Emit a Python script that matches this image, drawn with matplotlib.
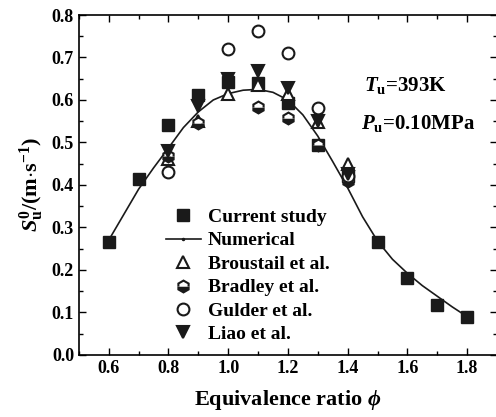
import matplotlib
matplotlib.use("Agg")
import matplotlib.pyplot as plt
from matplotlib.lines import Line2D
from matplotlib.ticker import MultipleLocator

plt.rcParams["font.family"] = "Liberation Serif"
plt.rcParams["font.weight"] = "bold"
plt.rcParams["axes.labelweight"] = "bold"
plt.rcParams["mathtext.fontset"] = "custom"
plt.rcParams["mathtext.rm"] = "Liberation Serif:bold"
plt.rcParams["mathtext.it"] = "Liberation Serif:italic:bold"
plt.rcParams["mathtext.bf"] = "Liberation Serif:bold"

# present measurements
phi_cur = [0.6, 0.7, 0.8, 0.9, 1.0, 1.1, 1.2, 1.3, 1.4, 1.5, 1.6, 1.7, 1.8]
su_cur = [0.266, 0.415, 0.542, 0.612, 0.642, 0.640, 0.594, 0.494, 0.420, 0.266, 0.181, 0.118, 0.090]

# numerical solution
phi_num = [0.6, 0.65, 0.7, 0.75, 0.8, 0.85, 0.9, 0.95, 1.0, 1.05, 1.1, 1.15, 1.2,
           1.25, 1.3, 1.35, 1.4, 1.45, 1.5, 1.55, 1.6, 1.65, 1.7, 1.75, 1.8]
su_num = [0.270, 0.330, 0.390, 0.440, 0.487, 0.535, 0.572, 0.600, 0.615, 0.623, 0.625,
          0.618, 0.600, 0.565, 0.515, 0.455, 0.393, 0.325, 0.268, 0.225, 0.192, 0.163,
          0.138, 0.113, 0.090]

# literature data
phi_bro = [0.8, 0.9, 1.0, 1.1, 1.2, 1.3, 1.4]
su_bro = [0.460, 0.550, 0.615, 0.635, 0.615, 0.548, 0.450]

phi_bra = [0.8, 0.9, 1.1, 1.2, 1.3, 1.4]
su_bra = [0.468, 0.545, 0.583, 0.558, 0.495, 0.410]

phi_gul = [0.8, 1.0, 1.1, 1.2, 1.3, 1.4]
su_gul = [0.430, 0.720, 0.762, 0.710, 0.580, 0.420]

phi_lia = [0.8, 0.9, 1.0, 1.1, 1.2, 1.3, 1.4]
su_lia = [0.480, 0.585, 0.650, 0.668, 0.628, 0.550, 0.425]

ink = "#1a1a1a"

fig = plt.figure(figsize=(4.96, 4.17), dpi=100)
ax = fig.add_axes([0.159, 0.149, 0.843, 0.815])

h_cur, = ax.plot(phi_cur, su_cur, "s", color=ink, ms=8.5, zorder=3)
ax.plot(phi_num, su_num, "-", color=ink, lw=1.2, zorder=2)
h_bro, = ax.plot(phi_bro, su_bro, "^", mfc="white", mec=ink, mew=1.5, ms=9, zorder=4)
h_bra, = ax.plot(phi_bra, su_bra, "h", fillstyle="bottom", mfc=ink, mfcalt="white",
                 mec=ink, mew=1.5, ms=8.5, zorder=4)
h_gul, = ax.plot(phi_gul, su_gul, "o", mfc="white", mec=ink, mew=1.5, ms=8.5, zorder=4)
h_lia, = ax.plot(phi_lia, su_lia, "v", color=ink, mew=1.5, ms=9, zorder=4)
# legend entry for the simulation: line with a small dot
h_num = Line2D([], [], color=ink, lw=1.2, marker=".", ms=3)

ax.set_xlim(0.5, 1.9)
ax.set_ylim(0.0, 0.8)
ax.xaxis.set_major_locator(MultipleLocator(0.2))
ax.xaxis.set_minor_locator(MultipleLocator(0.1))
ax.yaxis.set_major_locator(MultipleLocator(0.1))
ax.yaxis.set_minor_locator(MultipleLocator(0.05))
ax.tick_params(which="both", direction="in", top=True, right=True, labelsize=13)
ax.tick_params(which="major", length=5, width=1)
ax.tick_params(which="minor", length=3, width=1)
for sp in ax.spines.values():
    sp.set_linewidth(1.2)

ax.set_xlabel(r"Equivalence ratio $\phi$", fontsize=16, labelpad=8)
ax.set_ylabel(r"$S_\mathrm{u}^\mathrm{0}$/(m$\cdot$s$^{\mathrm{-1}}$)", fontsize=16, labelpad=4)

ax.text(1.455, 0.62, r"$T_\mathrm{u}$=393K", fontsize=15)
ax.text(1.443, 0.532, r"$P_\mathrm{u}$=0.10MPa", fontsize=15)

ax.legend([h_cur, h_num, h_bro, h_bra, h_gul, h_lia],
          ["Current study", "Numerical", "Broustail et al.", "Bradley et al.",
           "Gulder et al.", "Liao et al."],
          loc="lower left", bbox_to_anchor=(0.18, 0.0), frameon=False, fontsize=14,
          handlelength=1.8, handletextpad=0.35, labelspacing=0.3, borderaxespad=0.2)

fig.savefig("out.png", dpi=100)
